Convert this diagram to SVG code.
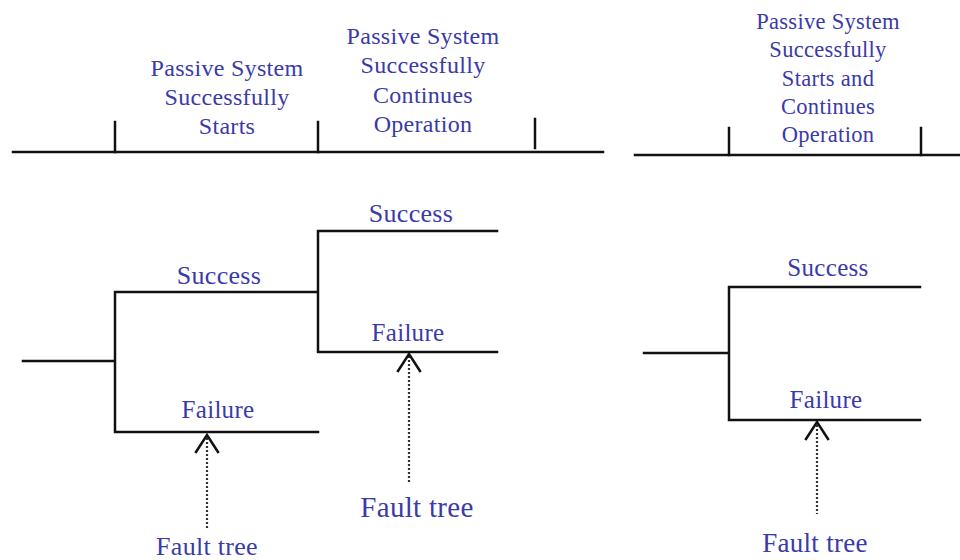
<svg xmlns="http://www.w3.org/2000/svg" width="960" height="560" viewBox="0 0 960 560">
<style>
.ln{stroke:#111;stroke-width:2.5;fill:none;stroke-linecap:square}
.dot{stroke:#333;stroke-width:2.2;stroke-dasharray:2 2;fill:none}
.t{font-family:"Liberation Serif","Times New Roman",serif;fill:#3a3aa8;text-anchor:middle;letter-spacing:0.3px}
</style>
<rect width="960" height="560" fill="#fff"/>
<g id="header-left">
<line class="ln" x1="13" y1="152" x2="603" y2="152"/>
<line class="ln" x1="115" y1="122" x2="115" y2="152"/>
<line class="ln" x1="318" y1="122" x2="318" y2="152"/>
<line class="ln" x1="535" y1="119" x2="535" y2="148"/>
</g>
<g id="col1" class="t" font-size="24">
<text x="227" y="76">Passive System</text>
<text x="227" y="105">Successfully</text>
<text x="227" y="134">Starts</text>
</g>
<g id="col2" class="t" font-size="24">
<text x="423" y="44">Passive System</text>
<text x="423" y="73">Successfully</text>
<text x="423" y="103">Continues</text>
<text x="423" y="132">Operation</text>
</g>
<g id="header-right">
<line class="ln" x1="635" y1="155" x2="960" y2="155"/>
<line class="ln" x1="729" y1="128" x2="729" y2="155"/>
<line class="ln" x1="921" y1="128" x2="921" y2="155"/>
</g>
<g id="col3" class="t" font-size="22.5">
<text x="828" y="29">Passive System</text>
<text x="828" y="57">Successfully</text>
<text x="828" y="86">Starts and</text>
<text x="828" y="114">Continues</text>
<text x="828" y="142">Operation</text>
</g>
<g id="connectors">
<path class="ln" d="M23 361H115M115 292V432M115 292H318M115 432H318M318 231V352M318 231H497M318 352H497"/>
<path class="ln" d="M644 353H729M729 287V420M729 287H920M729 420H920"/>
<path class="dot" d="M207 438V530M409 356V483M817 425V514"/>
<path class="ln" d="M196 452L207 435L218 452M398 371L409 354L420 371M806 439L817 422L828 439" stroke-linecap="butt"/>
</g>
<g id="tree-left" class="t">
<text x="219" y="284" font-size="26">Success</text>
<text x="218" y="418" font-size="25">Failure</text>
<text x="411" y="222" font-size="26">Success</text>
<text x="408" y="341" font-size="25">Failure</text>
<text x="207" y="555" font-size="26">Fault tree</text>
<text x="417" y="517" font-size="29">Fault tree</text>
</g>
<g id="tree-right" class="t">
<text x="828" y="276" font-size="25">Success</text>
<text x="826" y="408" font-size="25">Failure</text>
<text x="815" y="552" font-size="27">Fault tree</text>
</g>
</svg>
